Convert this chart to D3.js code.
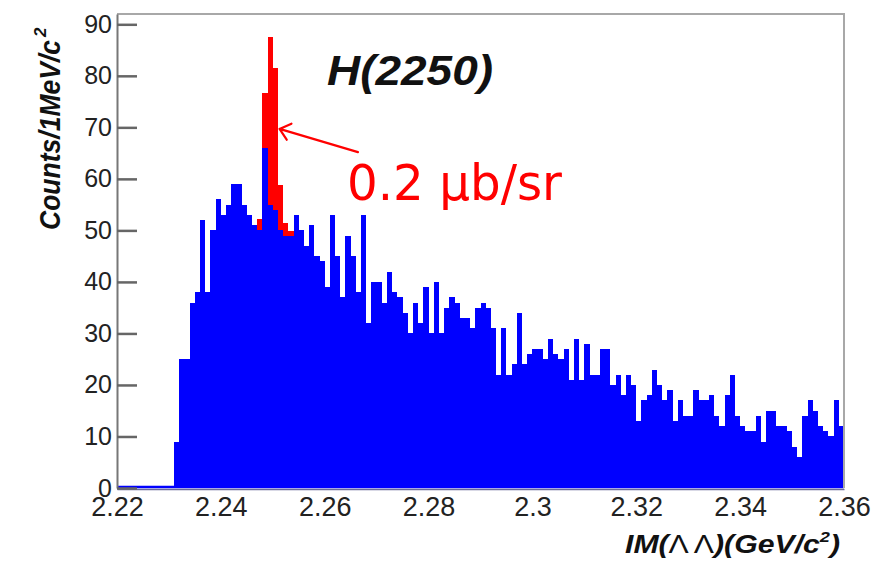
<!DOCTYPE html>
<html>
<head>
<meta charset="utf-8">
<script src="https://cdn.jsdelivr.net/npm/d3@7"></script>
<style>
  html, body { margin: 0; padding: 0; background: #fff; }
  svg { display: block; }
</style>
</head>
<body>
<svg id="chart" width="894" height="566"></svg>
<script>
// Λ Λ invariant-mass spectrum, 1 MeV/c² bins from 2.22 to 2.36 GeV/c²
const firstBinLow = 2.22;
const binWidth = 0.001;

// measured counts per bin (140 bins)
const counts = [
  0, 0, 0, 0, 0, 0, 0, 0, 0, 0,
  0, 9, 25, 25, 36, 38, 52, 38, 50, 56,
  53, 55, 59, 59, 55, 53, 51, 50, 66, 55,
  54, 50, 49, 49, 53, 50, 47, 51, 45, 44,
  39, 53, 45, 37, 49, 45, 38, 53, 32, 40,
  40, 36, 42, 38, 37, 34, 30, 36, 32, 39,
  30, 40, 30, 35, 37, 36, 33, 33, 31, 35,
  36, 35, 31, 22, 31, 22, 24, 34, 24, 26,
  27, 27, 25, 29, 26, 25, 27, 21, 29, 21,
  28, 22, 22, 27, 27, 20, 22, 18, 22, 20,
  13, 17, 18, 23, 20, 17, 19, 13, 17, 14,
  14, 19, 17, 17, 18, 14, 12, 18, 22, 14,
  12, 11, 11, 14, 9, 15, 15, 12, 12, 11,
  8, 6, 14, 17, 15, 12, 11, 10, 17, 12
];

// expected spectrum with an H(2250) signal of 0.2 μb/sr added
const signalBinLows = [2.247, 2.248, 2.249, 2.250, 2.251, 2.252, 2.253];
const signalCounts = [52.3, 76.7, 87.6, 81.6, 58.8, 51.4, 49.8];

const xTickValues = [2.22, 2.24, 2.26, 2.28, 2.30, 2.32, 2.34, 2.36];
const xTickLabels = ["2.22", "2.24", "2.26", "2.28", "2.3", "2.32", "2.34", "2.36"];
const yTickValues = [0, 10, 20, 30, 40, 50, 60, 70, 80, 90];

// annotation arrow, in data coordinates: [mass, counts]
const arrowTail = [2.2664, 65.2];
const arrowTip = [2.2513, 69.7];

const svg = d3.select("#chart");

const x = d3.scaleLinear().domain([2.22, 2.36]).range([117, 844]);
const y = d3.scaleLinear().domain([0, 92]).range([488, 14]);

const blue = "#0000ff";
const red = "#ff0000";

// signal histogram behind the data
const signalData = signalBinLows.map((lo, i) => ({ lo, v: signalCounts[i] }));
svg.append("g")
  .attr("shape-rendering", "crispEdges")
  .selectAll("rect")
  .data(signalData)
  .join("rect")
  .attr("x", d => x(d.lo))
  .attr("width", d => x(d.lo + binWidth) - x(d.lo))
  .attr("y", d => y(d.v))
  .attr("height", d => y(0) - y(d.v))
  .attr("fill", red);

// data histogram
const binData = counts.map((v, i) => ({ lo: firstBinLow + i * binWidth, v }));
svg.append("g")
  .attr("shape-rendering", "crispEdges")
  .selectAll("rect")
  .data(binData.filter(d => d.v > 0))
  .join("rect")
  .attr("x", d => x(d.lo))
  .attr("width", d => x(d.lo + binWidth) - x(d.lo))
  .attr("y", d => y(d.v))
  .attr("height", d => y(0) - y(d.v))
  .attr("fill", blue);

// histogram outline along zero
svg.append("line")
  .attr("x1", x(2.22)).attr("x2", x(2.36))
  .attr("y1", y(0) - 1).attr("y2", y(0) - 1)
  .attr("stroke", blue).attr("stroke-width", 2.5);

// frame
svg.append("path")
  .attr("d", `M${x(2.22)},${y(92)}H${x(2.36)}V${y(0)}`)
  .attr("fill", "none")
  .attr("stroke", "#a8a8a8")
  .attr("stroke-width", 2);

// x axis
const xAxis = svg.append("g")
  .attr("transform", `translate(0,${y(0) + 1})`)
  .call(d3.axisBottom(x)
    .tickValues(xTickValues)
    .tickFormat((d, i) => xTickLabels[i])
    .tickSize(0)
    .tickSizeOuter(0)
    .tickPadding(8));
xAxis.select(".domain").attr("stroke", "#6a6a9a").attr("stroke-width", 1.5);
xAxis.selectAll("text")
  .attr("fill", "#222")
  .style("font-family", "'Liberation Sans', Arial, sans-serif")
  .style("font-size", "27px");

// y axis with ticks pointing into the frame
const yAxis = svg.append("g")
  .attr("transform", `translate(${x(2.22)},0)`)
  .call(d3.axisLeft(y)
    .tickValues(yTickValues)
    .tickSize(-20)
    .tickSizeOuter(0)
    .tickPadding(5));
yAxis.select(".domain").attr("stroke", "#777").attr("stroke-width", 2);
yAxis.selectAll(".tick line").attr("stroke", "#666").attr("stroke-width", 2.5);
yAxis.selectAll("text")
  .attr("fill", "#222")
  .style("font-family", "'Liberation Sans', Arial, sans-serif")
  .style("font-size", "25px");

// axis titles
const yTitle = svg.append("g").attr("transform", "translate(60,230) rotate(-90)");
yTitle.append("text")
  .attr("x", 0).attr("y", 0)
  .attr("textLength", 190)
  .attr("lengthAdjust", "spacingAndGlyphs")
  .style("font-family", "'Liberation Sans', Arial, sans-serif")
  .style("font-weight", "bold")
  .style("font-style", "italic")
  .style("font-size", "29px")
  .attr("fill", "#111")
  .text("Counts/1MeV/c");
yTitle.append("text")
  .attr("x", 193).attr("y", -14)
  .style("font-family", "'Liberation Sans', Arial, sans-serif")
  .style("font-weight", "bold")
  .style("font-style", "italic")
  .style("font-size", "17px")
  .attr("fill", "#111")
  .text("2");

const xTitle = svg.append("text")
  .attr("x", 625).attr("y", 553)
  .attr("textLength", 215)
  .attr("lengthAdjust", "spacingAndGlyphs")
  .style("font-family", "'Liberation Sans', Arial, sans-serif")
  .style("font-weight", "bold")
  .style("font-style", "italic")
  .style("font-size", "25px")
  .attr("fill", "#111");
xTitle.append("tspan").text("IM(");
xTitle.append("tspan").style("font-weight", "normal").style("font-style", "normal").text("Λ Λ");
xTitle.append("tspan").text(")(GeV/c");
xTitle.append("tspan").attr("dy", -11).style("font-size", "15px").text("2");
xTitle.append("tspan").attr("dy", 11).text(")");

// state label
svg.append("text")
  .attr("x", 327).attr("y", 85)
  .attr("textLength", 166)
  .attr("lengthAdjust", "spacingAndGlyphs")
  .style("font-family", "'Liberation Sans', Arial, sans-serif")
  .style("font-weight", "bold")
  .style("font-style", "italic")
  .style("font-size", "42px")
  .attr("fill", "#111")
  .text("H(2250)");

// arrow to the signal peak
const tx = x(arrowTip[0]), ty = y(arrowTip[1]);
const sx = x(arrowTail[0]), sy = y(arrowTail[1]);
const ang = Math.atan2(sy - ty, sx - tx);
const headLen = 13, spread = 40 * Math.PI / 180;
svg.append("path")
  .attr("d",
    `M${sx},${sy}L${tx},${ty}` +
    `M${tx + headLen * Math.cos(ang - spread)},${ty + headLen * Math.sin(ang - spread)}L${tx},${ty}` +
    `L${tx + headLen * Math.cos(ang + spread)},${ty + headLen * Math.sin(ang + spread)}`)
  .attr("fill", "none")
  .attr("stroke", red)
  .attr("stroke-width", 2.2)
  .attr("stroke-linecap", "round")
  .attr("stroke-linejoin", "round");

svg.append("text")
  .attr("x", 347).attr("y", 200)
  .attr("textLength", 215)
  .attr("lengthAdjust", "spacingAndGlyphs")
  .style("font-family", "'DejaVu Sans', Verdana, sans-serif")
  .style("font-size", "49px")
  .attr("fill", red)
  .text("0.2 μb/sr");
</script>
</body>
</html>
